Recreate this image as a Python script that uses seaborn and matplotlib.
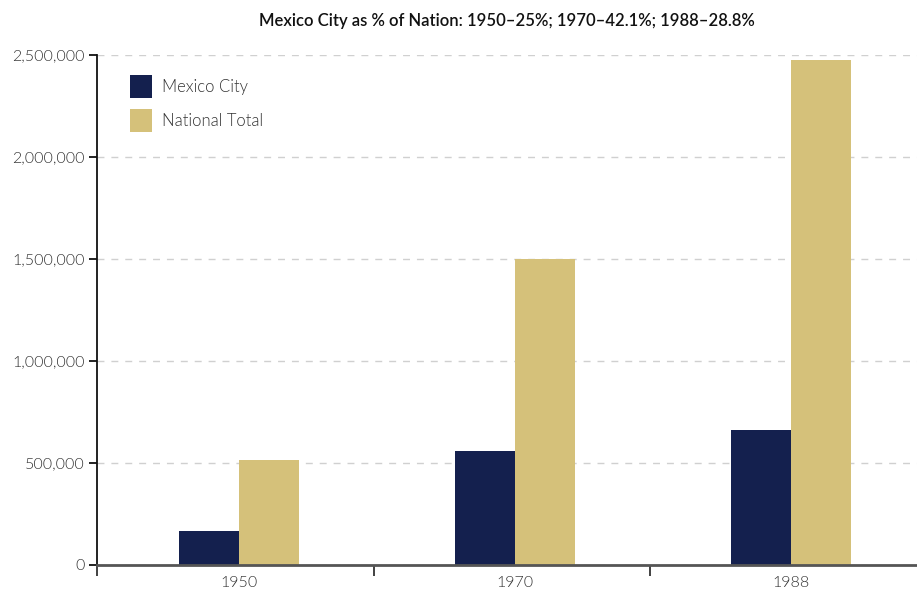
import pandas as pd
import matplotlib.pyplot as plt
import seaborn as sns
from matplotlib.ticker import FuncFormatter

# Data
years = ["1950", "1970", "1988"]
mexico_city = [165000, 558000, 661000]
national_total = [515000, 1500000, 2476000]
series_names = ["Mexico City", "National Total"]
title = "Mexico City as % of Nation: 1950\u201325%; 1970\u201342.1%; 1988\u201328.8%"

df = pd.DataFrame({
    "Year": years * 2,
    "Population": mexico_city + national_total,
    "Series": [series_names[0]] * len(years) + [series_names[1]] * len(years),
})

sns.set_theme(style="white")
plt.rcParams['font.family'] = ['Lato', 'DejaVu Sans']

fig = plt.figure(figsize=(9.17, 5.90), dpi=100)
ax = fig.add_axes([97 / 917, 25 / 590, 820 / 917, 510 / 590])

sns.barplot(
    data=df,
    x="Year",
    y="Population",
    hue="Series",
    palette=["#14204e", "#d5c17a"],
    width=0.435,
    saturation=1,
    linewidth=0,
    edgecolor="none",
    ax=ax,
)

ax.set_xlim(-0.514, 2.457)
ax.set_ylim(0, 2500000)
ax.set_yticks([0, 500000, 1000000, 1500000, 2000000, 2500000])
ax.yaxis.set_major_formatter(FuncFormatter(lambda v, p: f"{int(v):,}"))

# Dashed grid
ax.yaxis.grid(True, linestyle=(0, (5, 5)), color="#d0d0d0", linewidth=1)
ax.set_axisbelow(True)

# Spines
for s in ["top", "right"]:
    ax.spines[s].set_visible(False)
ax.spines["left"].set_color("#111111")
ax.spines["left"].set_linewidth(1.3)
ax.spines["bottom"].set_color("#555555")
ax.spines["bottom"].set_linewidth(2)

# Ticks: category labels without marks, marks at group boundaries
ax.tick_params(axis="x", which="major", bottom=True, length=0, pad=8,
               labelsize=11.5, labelcolor="#333333")
ax.set_xticks([-0.514, 0.488, 1.489], minor=True)
ax.tick_params(axis="x", which="minor", bottom=True, length=8, width=1.3,
               color="#333333", direction="out")
ax.tick_params(axis="y", length=6, width=1.3, color="#111111", left=True, pad=3,
               labelsize=11.5, labelcolor="#333333")
for lbl in ax.get_xticklabels() + ax.get_yticklabels():
    lbl.set_fontweight(300)

ax.set_xlabel("")
ax.set_ylabel("")

ax.set_title(title, fontsize=12, color="#111111", pad=21, fontweight="semibold")

leg = ax.legend(
    loc="upper left",
    bbox_to_anchor=(0.022, 0.99),
    frameon=False,
    fontsize=12,
    handlelength=1.3,
    handleheight=1.7,
    handletextpad=0.6,
    labelspacing=0.7,
    labelcolor="#333333",
)
for t in leg.get_texts():
    t.set_fontweight(300)

fig.savefig("out.png", dpi=100)
plt.close()
